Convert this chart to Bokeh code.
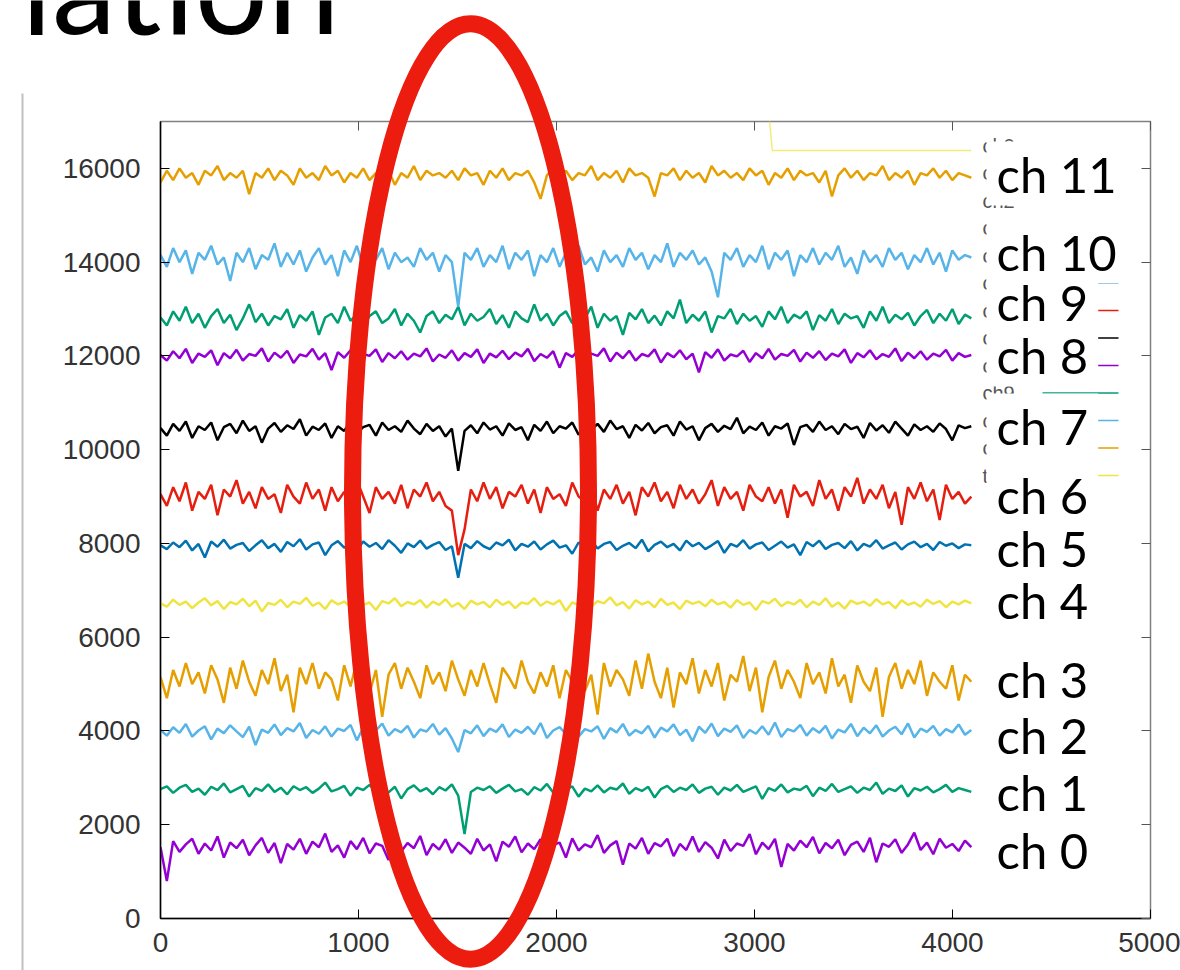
import numpy as np
from bokeh.plotting import figure
from bokeh.models import Range1d, LinearAxis, FixedTicker, Label, CustomJSTickFormatter
from bokeh.embed import file_html
from bokeh.resources import INLINE

# ---------------- data ----------------
labels = ["ch 0", "ch 1", "ch 2", "ch 3", "ch 4", "ch 5",
          "ch 6", "ch 7", "ch 8", "ch 9", "ch 10", "ch 11"]
legend_names = ["ch0", "ch1", "ch2", "ch3", "ch4", "ch5", "ch6",
                "ch7", "ch8", "ch9", "ch10", "ch11", "trig"]
colors = ["#9400d3", "#009e73", "#56b4e9", "#e69f00", "#f0e442", "#0072b2",
          "#e51e10", "#000000", "#9400d3", "#009e73", "#56b4e9", "#e69f00", "#f0e442"]

ch0 = [1520, 800, 1650, 1420, 1580, 1700, 1380, 1600, 1450, 1750, 1300, 1620, 1500, 1680, 1350, 1560, 1720, 1400, 1610, 1180, 1590, 1470, 1700, 1380, 1640, 1520, 1810, 1420, 1560, 1300, 1650, 1480, 1720, 1390, 1600, 1550, 1250, 1680, 1430, 1610, 1500, 1760, 1350, 1590, 1470, 1690, 1400, 1620, 1510, 1380, 1700, 1450, 1580, 1220, 1640, 1530, 1750, 1410, 1600, 1480, 1690, 1360, 1570, 1620, 1300, 1710, 1450, 1580, 1520, 1780, 1400, 1560, 1650, 1150, 1600, 1490, 1720, 1380, 1610, 1540, 1700, 1330, 1590, 1460, 1750, 1420, 1630, 1510, 1280, 1680, 1440, 1600, 1550, 1800, 1370, 1620, 1480, 1700, 1100, 1590, 1450, 1660, 1520, 1740, 1390, 1610, 1500, 1680, 1350, 1570, 1640, 1420, 1720, 1200, 1600, 1530, 1690, 1400, 1580, 1830, 1460, 1620, 1370, 1700, 1510, 1590, 1440, 1660, 1520]
ch1 = [2760, 2820, 2680, 2790, 2850, 2700, 2770, 2640, 2810, 2740, 2880, 2690, 2760, 2830, 2600, 2780, 2720, 2860, 2700, 2790, 2650, 2820, 2740, 2800, 2680, 2770, 2900, 2710, 2760, 2830, 2620, 2790, 2740, 2850, 2700, 2770, 2690, 2810, 2560, 2760, 2840, 2710, 2780, 2650, 2800, 2730, 2860, 2620, 1800, 2700, 2790, 2740, 2820, 2680, 2770, 2850, 2710, 2760, 2640, 2800, 2730, 2870, 2690, 2780, 2740, 2820, 2600, 2770, 2710, 2840, 2690, 2790, 2750, 2880, 2660, 2780, 2720, 2810, 2580, 2760, 2830, 2700, 2790, 2740, 2860, 2680, 2770, 2810, 2640, 2790, 2730, 2850, 2700, 2760, 2820, 2550, 2780, 2720, 2860, 2690, 2770, 2740, 2830, 2610, 2790, 2720, 2870, 2700, 2760, 2820, 2680, 2790, 2740, 2900, 2660, 2770, 2720, 2840, 2600, 2780, 2730, 2810, 2690, 2760, 2850, 2700, 2780, 2740, 2700]
ch2 = [4020, 3900, 4080, 3960, 4150, 3880, 4010, 4100, 3820, 4050, 3950, 4120, 3990, 3870, 4090, 3700, 4030, 3960, 4140, 3910, 4060, 3990, 4170, 3850, 4020, 3940, 4100, 3880, 4050, 4000, 4130, 3800, 4070, 3950, 4010, 4160, 3900, 4040, 3970, 4110, 3860, 4030, 3990, 4150, 3920, 4060, 3840, 3550, 4020, 3950, 4120, 3890, 4050, 3980, 4140, 3870, 4030, 3960, 4090, 3930, 4170, 3850, 4010, 4080, 3940, 4130, 3880, 4040, 3990, 4100, 3830, 4060, 3970, 4150, 3900, 4020, 3950, 4110, 3860, 4070, 3990, 4140, 3910, 4030, 3780, 4090, 3960, 4160, 3890, 4050, 3980, 4120, 3850, 4020, 3940, 4100, 3920, 4180, 3870, 4040, 3990, 4130, 3900, 4060, 3960, 4110, 3840, 4030, 3970, 4150, 3890, 4070, 3950, 4120, 3880, 4010, 4090, 3930, 4160, 3860, 4050, 3980, 4110, 3900, 4040, 3970, 4140, 3920, 4020]
ch3 = [5150, 4700, 5300, 4950, 5450, 5000, 5250, 4800, 5400, 5100, 4600, 5350, 4900, 5500, 5050, 4750, 5300, 5000, 5550, 4850, 5200, 4400, 5350, 5000, 5450, 4900, 5250, 5100, 4650, 5400, 4950, 5500, 5050, 4800, 5300, 4300, 5200, 5450, 4900, 5350, 5050, 4700, 5400, 5000, 5250, 4850, 5500, 5100, 4750, 5300, 4950, 5450, 5000, 4600, 5350, 5150, 4900, 5500, 5050, 4800, 5250, 4950, 5400, 4700, 5300, 5050, 5600, 4850, 5200, 4350, 5450, 4950, 5300, 5100, 4750, 5500, 4900, 5650, 5050, 4700, 5350, 4500, 5250, 5000, 5550, 4800, 5300, 4950, 5450, 4650, 5200, 5050, 5600, 4850, 5350, 4400, 5150, 5500, 4900, 5300, 5050, 4700, 5450, 5000, 5250, 4800, 5550, 4950, 5200, 4600, 5400, 5050, 4850, 5350, 4300, 5150, 5450, 4900, 5300, 5000, 5500, 4750, 5250, 5050, 4900, 5400, 4650, 5200, 5050]
ch4 = [6720, 6650, 6800, 6690, 6760, 6620, 6740, 6830, 6680, 6770, 6600, 6750, 6700, 6820, 6660, 6780, 6550, 6730, 6690, 6800, 6640, 6760, 6710, 6840, 6670, 6740, 6600, 6790, 6700, 6760, 6650, 6810, 6690, 6740, 6580, 6770, 6720, 6830, 6660, 6750, 6700, 6790, 6630, 6760, 6690, 6810, 6650, 6730, 6600, 6780, 6700, 6750, 6640, 6800, 6690, 6760, 6620, 6740, 6710, 6830, 6670, 6760, 6700, 6790, 6560, 6740, 6690, 6810, 6650, 6770, 6720, 6850, 6680, 6750, 6610, 6790, 6700, 6760, 6640, 6820, 6690, 6740, 6600, 6780, 6710, 6760, 6660, 6800, 6700, 6750, 6630, 6790, 6690, 6740, 6580, 6770, 6720, 6820, 6660, 6750, 6700, 6800, 6640, 6760, 6690, 6830, 6650, 6740, 6610, 6780, 6710, 6760, 6670, 6810, 6700, 6750, 6620, 6790, 6690, 6740, 6650, 6800, 6710, 6770, 6640, 6760, 6700, 6780, 6720]
ch5 = [7960, 7880, 8020, 7920, 8060, 7850, 7990, 7700, 8040, 7930, 8080, 7890, 7970, 8010, 7840, 7960, 8070, 7900, 7990, 7820, 8030, 7940, 8090, 7870, 7980, 8020, 7750, 7960, 8050, 7910, 7990, 7860, 8040, 7930, 8010, 7880, 8070, 7950, 7800, 8000, 7920, 8060, 7890, 7970, 8030, 7860, 7940, 7270, 7990, 7900, 8050, 7940, 7880, 8020, 7960, 8080, 7850, 7990, 7930, 8040, 7870, 7980, 8060, 7910, 7960, 7780, 8020, 7940, 8070, 7890, 7990, 8030, 7860, 7950, 8010, 7900, 8080, 7830, 7970, 8040, 7920, 7990, 7850, 8060, 7940, 8010, 7880, 7960, 8050, 7800, 7990, 7930, 8070, 7890, 7980, 8020, 7860, 7950, 8040, 7910, 7980, 7750, 8030, 7940, 8060, 7880, 7970, 8010, 7900, 8050, 7850, 7990, 7930, 8070, 7890, 7960, 8020, 7870, 7980, 8040, 7920, 7990, 7860, 8030, 7950, 8000, 7900, 7980, 7960]
ch6 = [9050, 8800, 9200, 8900, 9300, 8700, 9100, 8950, 9250, 8600, 9150, 9000, 9350, 8850, 9100, 8750, 9200, 8950, 9050, 8650, 9250, 9000, 8850, 9300, 8950, 9150, 8700, 9200, 8900, 9100, 8800, 9350, 9000, 8650, 9200, 8950, 9100, 8850, 9250, 8750, 9150, 9000, 9300, 8900, 9100, 8800, 8700, 7750, 8300, 9150, 8900, 9300, 8950, 9200, 8750, 9100, 9000, 9250, 8850, 9150, 8650, 9200, 8950, 9050, 8800, 9300, 9000, 8900, 9200, 8700, 9150, 8950, 9250, 8850, 9100, 8600, 9200, 9000, 9300, 8900, 9100, 8750, 9250, 8950, 9150, 8850, 9050, 9350, 8800, 9200, 8950, 9100, 8700, 9250, 9000, 8900, 9200, 8850, 9150, 8550, 9250, 9000, 9100, 8800, 9350, 8950, 9150, 8700, 9200, 9000, 9400, 8850, 9150, 8950, 9250, 8750, 9100, 8400, 9200, 8950, 9300, 8900, 9150, 8500, 9250, 8950, 9100, 8850, 9000]
ch7 = [10460, 10300, 10550, 10400, 10600, 10250, 10500, 10420, 10580, 10200, 10480, 10550, 10350, 10620, 10400, 10500, 10150, 10450, 10570, 10380, 10520, 10440, 10650, 10300, 10490, 10420, 10560, 10250, 10500, 10400, 10600, 10350, 10480, 10530, 10300, 10580, 10420, 10500, 10380, 10620, 10450, 10330, 10550, 10400, 10500, 10280, 10450, 9550, 10400, 10520, 10350, 10580, 10430, 10500, 10300, 10560, 10420, 10480, 10200, 10530, 10400, 10600, 10350, 10500, 10450, 10580, 10320, 10490, 10420, 10550, 10380, 10620, 10440, 10500, 10250, 10530, 10410, 10570, 10350, 10480, 10520, 10300, 10600, 10430, 10500, 10200, 10460, 10550, 10380, 10510, 10440, 10680, 10350, 10490, 10420, 10580, 10300, 10500, 10450, 10560, 10100, 10480, 10530, 10380, 10600, 10420, 10500, 10330, 10550, 10440, 10490, 10250, 10570, 10410, 10520, 10360, 10600, 10450, 10300, 10540, 10420, 10500, 10380, 10560, 10440, 10200, 10520, 10460, 10500]
ch8 = [12020, 11900, 12100, 11950, 12150, 11850, 12050, 11980, 12120, 11800, 12060, 11950, 12130, 11900, 12040, 12000, 12160, 11880, 12070, 11960, 12110, 11850, 12030, 11990, 12150, 11920, 12060, 11700, 12080, 11960, 12120, 11900, 12040, 12000, 12140, 11870, 12060, 11950, 12100, 11920, 12050, 11990, 12160, 11880, 12030, 11960, 12120, 11900, 12060, 11980, 12140, 11850, 12050, 11970, 12110, 11930, 12070, 11990, 12150, 11890, 12040, 11960, 12100, 11750, 12060, 11980, 12130, 11920, 12050, 12000, 12160, 11880, 12070, 11950, 12110, 11900, 12040, 11990, 12140, 11860, 12060, 11970, 12120, 11930, 12050, 11650, 12080, 11960, 12140, 11900, 12030, 11990, 12110, 11870, 12060, 11950, 12150, 11920, 12040, 12000, 12130, 11880, 12070, 11960, 12100, 11910, 12050, 11990, 12140, 11850, 12060, 11970, 12120, 11930, 12040, 11980, 12160, 11890, 12070, 11950, 12100, 11920, 12050, 11990, 12130, 11900, 12060, 11980, 12020]
ch9 = [12820, 12650, 12950, 12750, 13050, 12700, 12900, 12600, 12850, 13000, 12700, 12880, 12550, 12800, 13100, 12720, 12900, 12650, 12850, 12780, 13000, 12600, 12870, 12750, 12950, 12450, 12820, 12900, 12700, 13050, 12750, 12880, 12620, 12850, 12950, 12700, 12800, 13000, 12650, 12900, 12750, 12500, 12850, 12950, 12700, 12880, 12780, 13050, 12650, 12900, 12750, 12830, 13000, 12680, 12870, 12600, 12950, 12800, 12720, 13100, 12750, 12900, 12650, 12850, 12950, 12700, 12880, 12800, 13050, 12600, 12900, 12750, 12850, 12450, 12920, 12780, 13000, 12700, 12860, 12650, 12950, 12800, 13200, 12700, 12880, 12750, 12950, 12500, 12850, 12800, 13000, 12680, 12900, 12750, 12850, 12620, 12950, 12780, 13050, 12700, 12880, 12800, 12950, 12550, 12870, 12750, 13000, 12680, 12900, 12800, 12850, 12600, 12950, 12750, 13050, 12700, 12880, 12780, 12920, 12650, 12850, 12980, 12700, 12900, 12750, 13000, 12680, 12880, 12800]
ch10 = [14150, 13900, 14300, 14000, 14250, 13750, 14200, 14050, 14350, 13950, 14100, 13600, 14200, 14000, 14300, 13850, 14150, 14050, 14400, 13900, 14200, 13950, 14250, 13800, 14100, 14300, 13950, 14150, 13700, 14250, 14000, 14350, 13900, 14150, 14050, 14300, 13850, 14200, 14000, 14100, 13900, 14300, 14050, 14200, 13800, 14150, 14000, 13050, 14200, 14050, 14300, 13900, 14150, 14000, 14350, 13850, 14200, 14050, 14250, 13700, 14150, 14000, 14300, 13900, 14200, 14050, 14350, 13950, 14100, 13800, 14250, 14000, 14150, 13900, 14300, 14050, 14200, 13850, 14150, 14000, 14400, 13900, 14200, 14050, 14250, 13950, 14100, 13800, 13250, 14200, 14050, 14300, 13900, 14150, 14000, 14350, 13850, 14200, 14050, 14250, 13700, 14150, 14000, 14300, 13950, 14200, 14050, 14350, 13900, 14100, 13750, 14250, 14000, 14150, 13900, 14300, 14050, 14200, 13850, 14150, 14000, 14300, 13950, 14200, 13800, 14250, 14050, 14150, 14100]
ch11 = [15700, 15950, 15750, 16000, 15800, 15900, 15650, 15950, 15850, 16050, 15750, 15900, 15800, 15950, 15450, 15900, 15800, 16000, 15750, 15950, 15850, 15650, 16000, 15800, 15900, 15750, 16050, 15850, 15950, 15700, 15900, 15800, 16000, 15750, 15900, 15850, 15950, 15650, 15900, 15800, 16050, 15750, 15950, 15850, 15900, 15800, 15950, 15750, 16000, 15850, 15900, 15650, 15950, 15800, 16000, 15750, 15900, 15850, 15950, 15700, 15350, 15850, 16000, 15800, 15950, 15750, 15900, 15850, 16050, 15750, 15900, 15800, 15950, 15700, 16000, 15850, 15900, 15800, 15400, 15900, 15850, 16000, 15750, 15950, 15800, 15900, 15700, 16050, 15850, 15950, 15800, 15900, 15750, 16000, 15850, 15950, 15650, 15900, 15800, 16000, 15750, 15950, 15850, 15900, 15700, 15950, 15400, 15850, 16000, 15800, 15950, 15750, 15900, 15850, 16050, 15750, 15900, 15800, 15950, 15650, 15900, 15850, 16000, 15800, 15950, 15750, 15900, 15850, 15800]
trig_x = [0, 3055, 3090, 4095]
trig_y = [18000, 18000, 16380, 16380]

channels = [ch0, ch1, ch2, ch3, ch4, ch5, ch6, ch7, ch8, ch9, ch10, ch11]
x_ticks = [0, 1000, 2000, 3000, 4000, 5000]
y_ticks = [0, 2000, 4000, 6000, 8000, 10000, 12000, 14000, 16000]
n_samples = 4096

# ---------------- layout ----------------
W, H = 1180, 970
BL, BR, BT, BB = 160, 30, 121, 52
XR = (0, 5000)
YR = (0, 17000)

def dx(px):
    return XR[0] + (px - BL) * (XR[1] - XR[0]) / (W - BL - BR)

def dy(py):
    return YR[0] + (H - BB - py) * (YR[1] - YR[0]) / (H - BT - BB)

# Label boxes are centred on y; shift so the text baseline lands where wanted
def baseline_to_center(py, size):
    return py - 0.387 * size

pin = {"position": "absolute", "left": "0px", "top": "0px"}

p = figure(width=W, height=H, output_backend="svg", toolbar_location=None,
           x_range=Range1d(*XR), y_range=Range1d(*YR),
           min_border_left=BL, min_border_right=BR, min_border_top=BT, min_border_bottom=BB)
p.styles = pin
p.xgrid.visible = False
p.ygrid.visible = False
p.outline_line_color = "#808080"
p.outline_line_width = 1.5
p.background_fill_color = "white"
p.border_fill_color = "white"

for ax, ticks in ((p.xaxis[0], x_ticks), (p.yaxis[0], y_ticks)):
    ax.ticker = FixedTicker(ticks=ticks)
    ax.major_tick_in = 9
    ax.major_tick_out = 0
    ax.minor_tick_line_color = None
    ax.axis_line_color = "black"
    ax.axis_line_width = 1.5
    ax.major_tick_line_color = "black"
    ax.major_label_text_font = "Liberation Sans"
    ax.major_label_text_font_size = "28px"
    ax.major_label_text_color = "#333333"
p.yaxis[0].major_label_standoff = 20
p.xaxis[0].major_label_standoff = 14

blank = CustomJSTickFormatter(code="return ''")
right_ax = LinearAxis(ticker=FixedTicker(ticks=y_ticks), formatter=blank,
                      axis_line_color=None, major_tick_in=9, major_tick_out=0,
                      minor_tick_line_color=None, major_tick_line_color="#555555")
top_ax = LinearAxis(ticker=FixedTicker(ticks=x_ticks), formatter=blank,
                    axis_line_color=None, major_tick_in=9, major_tick_out=0,
                    minor_tick_line_color=None, major_tick_line_color="#555555")
p.add_layout(right_ax, "right")
p.add_layout(top_ax, "above")

# traces
for vals, col in zip(channels, colors[:12]):
    xs = np.linspace(0, n_samples - 1, len(vals))
    p.line(xs, vals, line_color=col, line_width=2.5)
p.line(trig_x, trig_y, line_color=colors[12], line_width=1.5, line_alpha=0.7)

# gnuplot key (partly hidden behind the slide's white label boxes)
key_x0, key_x1 = dx(1042), dx(1118)
for i, (name, col) in enumerate(zip(legend_names, colors)):
    yc = dy(145 + 27.5 * i)
    p.segment(x0=[key_x0], y0=[yc], x1=[key_x1], y1=[yc], line_color=col, line_width=1.5)
    p.add_layout(Label(x=dx(982), y=yc, text=name, text_font="Liberation Sans",
                       text_font_size="20px", text_color="#555555", text_baseline="middle"))

# slide labels on white boxes
LS = 49
label_baselines = [868, 810, 753, 697, 618, 566, 513, 444, 373, 320, 270, 192]
for name, base in zip(labels, label_baselines):
    p.add_layout(Label(x=dx(986), y=dy(baseline_to_center(base, LS)), text=name,
                       text_font="Lato", text_font_size=f"{LS}px", text_color="black",
                       text_baseline="alphabetic", background_fill_color="white",
                       padding=dict(left=10, right=10, top=3, bottom=3)))

# ---------------- slide overlay (title fragment, border line, red ellipse) ----------------
ov = figure(width=W, height=H, output_backend="svg", toolbar_location=None,
            x_range=Range1d(dx(0), dx(W)), y_range=Range1d(dy(H), dy(0)),
            min_border=0, x_axis_type=None, y_axis_type=None)
ov.styles = pin
ov.background_fill_color = None
ov.border_fill_color = None
ov.outline_line_color = None

TS = 129
ov.add_layout(Label(x=dx(21), y=dy(baseline_to_center(33, TS)), text="lation", text_font="Lato",
                    text_font_size=f"{TS}px", text_color="black", text_baseline="alphabetic"))
ov.segment(x0=[dx(22)], y0=[dy(93)], x1=[dx(22)], y1=[dy(975)],
           line_color="#c0c0c0", line_width=2)
ov.ellipse(x=[dx(470)], y=[dy(491)], width=[236], height=[936],
           width_units="screen", height_units="screen",
           fill_color=None, line_color="#ec1c0f", line_width=17)

open("out.html", "w").write(file_html([p, ov], INLINE))
